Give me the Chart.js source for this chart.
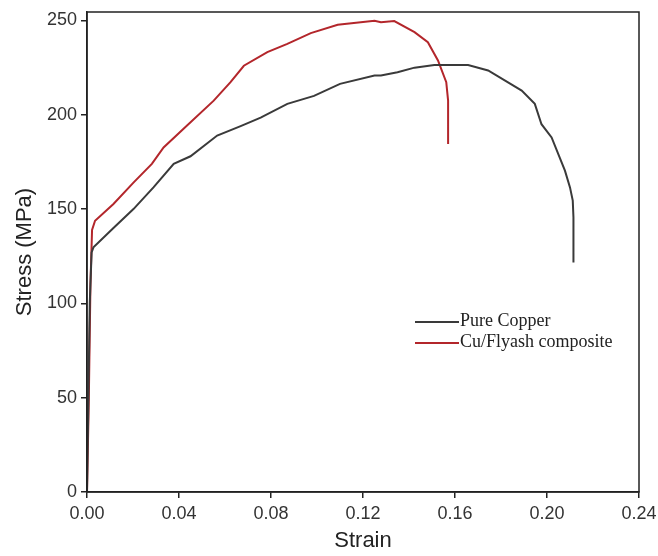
<!DOCTYPE html>
<html>
<head>
<meta charset="utf-8">
<script src="https://cdn.jsdelivr.net/npm/chart.js@4/dist/chart.umd.min.js"></script>
<style>
  body { margin: 0; background: #fff; }
</style>
</head>
<body>
<canvas id="myChart" width="658" height="556"></canvas>
<script>
// values
const seriesNames = ["Pure Copper", "Cu/Flyash composite"];

const strainCu = [0, 0.0005, 0.0012, 0.002, 0.0028, 0.0115, 0.0202, 0.0289, 0.0377, 0.045,
  0.0566, 0.0668, 0.0755, 0.0871, 0.0987, 0.110, 0.125, 0.1278, 0.135, 0.1424,
  0.151, 0.1657, 0.1744, 0.189, 0.1947, 0.1976, 0.202, 0.2078, 0.21, 0.2112, 0.2115, 0.2115];
const stressCu = [0, 40, 100, 127, 129.7, 140, 150, 161.5, 174, 178,
  189, 194, 198.5, 205.8, 210, 216.4, 220.8, 220.8, 222.6, 225,
  226.4, 226.4, 223.5, 212.8, 205.8, 195, 188, 170.4, 161.5, 154.5, 145.6, 121.7];

const strainComp = [0, 0.0008, 0.0015, 0.0022, 0.0035, 0.0115, 0.0202, 0.0282, 0.0333, 0.0435,
  0.0551, 0.0624, 0.0682, 0.0784, 0.0871, 0.0973, 0.109, 0.125, 0.1278, 0.1336,
  0.1424, 0.1482, 0.1526, 0.1562, 0.157, 0.157];
const stressComp = [0, 50, 110, 139, 143.8, 152.7, 164, 174, 182.7, 194.3,
  207.5, 217.3, 226, 233.2, 237.6, 243.3, 247.7, 249.9, 249.1, 249.7,
  243.8, 238.5, 228.8, 217.3, 207.5, 184.5];

const xTicks = [0, 0.04, 0.08, 0.12, 0.16, 0.20, 0.24];
const yTicks = [0, 50, 100, 150, 200, 250];

const lineColors = ["#3a3a3a", "#b3262b"];

function toPoints(xs, ys) {
  return xs.map((x, i) => ({ x: x, y: ys[i] }));
}

// frame round the plot + legend drawn inside the plot
const framePlugin = {
  id: "frame",
  afterDraw(chart) {
    const ctx = chart.ctx;
    const a = chart.chartArea;
    ctx.save();
    ctx.strokeStyle = "#222";
    ctx.lineWidth = 1.5;
    ctx.strokeRect(a.left, a.top, a.right - a.left, a.bottom - a.top);

    // legend
    const lx = 415, ly = 322;
    ctx.font = "18px 'Liberation Serif', 'Times New Roman', serif";
    ctx.textBaseline = "middle";
    chart.data.datasets.forEach((ds, i) => {
      const y = ly + i * 21;
      ctx.strokeStyle = ds.borderColor;
      ctx.lineWidth = 2;
      ctx.beginPath();
      ctx.moveTo(lx, y);
      ctx.lineTo(lx + 44, y);
      ctx.stroke();
      ctx.fillStyle = "#222";
      ctx.fillText(ds.label, lx + 45, y - 1);
    });
    ctx.restore();
  },
};

const tickFont = { family: "'Liberation Sans', Arial, sans-serif", size: 18 };
const titleFont = { family: "'Liberation Sans', Arial, sans-serif", size: 22 };

const ctx = document.getElementById("myChart").getContext("2d");
const myChart = new Chart(ctx, {
  type: "scatter",
  data: {
    datasets: [
      {
        label: seriesNames[0],
        data: toPoints(strainCu, stressCu),
        showLine: true,
        borderColor: lineColors[0],
        borderWidth: 2,
        pointRadius: 0,
        tension: 0,
      },
      {
        label: seriesNames[1],
        data: toPoints(strainComp, stressComp),
        showLine: true,
        borderColor: lineColors[1],
        borderWidth: 2,
        pointRadius: 0,
        tension: 0,
      },
    ],
  },
  options: {
    responsive: false,
    animation: false,
    layout: { padding: { left: 12, right: 19, top: 12, bottom: 2 } },
    plugins: {
      legend: { display: false },
      tooltip: { enabled: false },
    },
    scales: {
      x: {
        type: "linear",
        min: 0,
        max: 0.24,
        afterBuildTicks: (s) => { s.ticks = xTicks.map((v) => ({ value: v })); },
        afterFit: (s) => {
          s.height = 62;
          s.paddingLeft = 0;
          s.paddingRight = 0;
        },
        ticks: {
          callback: (v) => v.toFixed(2),
          color: "#333",
          font: tickFont,
          padding: 5,
          maxRotation: 0,
        },
        grid: { drawOnChartArea: false, drawTicks: true, tickLength: 6, color: "#222", lineWidth: 1.5 },
        border: { display: true, color: "#222", width: 1.5 },
        title: {
          display: true,
          text: "Strain",
          color: "#222",
          font: titleFont,
          padding: { top: 2, bottom: 0 },
        },
      },
      y: {
        type: "linear",
        min: 0,
        max: 254.5,
        afterBuildTicks: (s) => { s.ticks = yTicks.map((v) => ({ value: v })); },
        afterFit: (s) => {
          s.width = 75;
          s.paddingTop = 0;
          s.paddingBottom = 0;
        },
        ticks: {
          color: "#333",
          font: tickFont,
          padding: 4,
        },
        grid: { drawOnChartArea: false, drawTicks: true, tickLength: 6, color: "#222", lineWidth: 1.5 },
        border: { display: true, color: "#222", width: 1.5 },
        title: {
          display: true,
          text: "Stress (MPa)",
          color: "#222",
          font: titleFont,
          padding: { top: 0, bottom: 4 },
        },
      },
    },
  },
  plugins: [framePlugin],
});
</script>
</body>
</html>
